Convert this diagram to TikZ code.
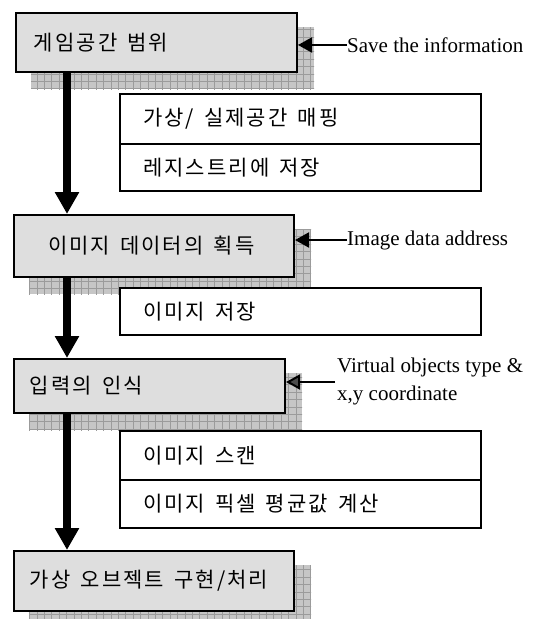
\documentclass[tikz,border=0pt]{standalone}
\usepackage{fontspec}
\setmainfont{Liberation Serif}
\newfontfamily\kr[LetterSpace=10]{Noto Sans CJK KR}
\usetikzlibrary{arrows.meta,calc,backgrounds}
\definecolor{boxgray}{RGB}{222,222,222}
\definecolor{shadebase}{RGB}{198,198,198}
\definecolor{shadeline}{RGB}{155,155,155}
\begin{document}
\begin{tikzpicture}[x=1pt,y=-1pt,
  krlabel/.style={align=left, font=\kr\fontsize{21}{25}\selectfont,
    execute at begin node={\spaceskip=10pt\relax}},
  stage/.style={krlabel, draw=black, line width=2pt, fill=boxgray,
    anchor=north west, inner ysep=0pt},
  cell/.style={krlabel, draw=black, line width=2pt, fill=white, anchor=north west,
    minimum width=361pt, inner xsep=23pt, inner ysep=0pt, text width=315pt},
  note/.style={anchor=west, inner sep=0pt, align=left,
    font=\fontsize{21}{28}\selectfont},
  flow/.style={line width=8pt, -{Triangle[length=22pt,width=23pt]}},
  feed/.style={line width=2pt, -{Triangle[length=14pt,width=15pt]}},
]
\useasboundingbox (0,0) rectangle (539,619);

% process boxes (placed by their upper left corners)
\path (15,12)  node[stage, minimum height=59pt, inner xsep=18pt, text width=245pt] (b1) {게임공간 범위};
\path (13,214) node[stage, minimum height=62pt, inner xsep=34pt, text width=212pt] (b2) {이미지 데이터의 획득};
\path (13,358) node[stage, minimum height=54pt, inner xsep=16pt, text width=239pt] (b3) {입력의 인식};
\path (13,550) node[stage, minimum height=60pt, inner xsep=16pt, text width=248pt] (b4) {가상 오브젝트 구현/처리};

% hatched drop shadows behind the process boxes
\begin{scope}[on background layer]
  \foreach \b in {b1,b2,b3,b4}{
    \begin{scope}
      \clip ($(\b.north west)+(16,15)$) rectangle ($(\b.south east)+(16,16)$);
      \fill[shadebase] ($(\b.north west)+(16,15)$) rectangle ($(\b.south east)+(16,16)$);
      \draw[shadeline, line width=0.8pt, step=7.4pt] ($(\b.north west)+(10,10)$) grid ($(\b.south east)+(24,24)$);
    \end{scope}
  }
\end{scope}

% sub-step tables
\path (119,93)  node[cell, minimum height=50pt] (a1) {가상/ 실제공간 매핑};
\path (119,143) node[cell, minimum height=47pt] (a2) {레지스트리에 저장};
\path (119,287) node[cell, minimum height=47pt] (c1) {이미지 저장};
\path (119,430) node[cell, minimum height=49pt] (d1) {이미지 스캔};
\path (119,479) node[cell, minimum height=48pt] (d2) {이미지 픽셀 평균값 계산};

% main flow
\coordinate (col) at (67,0);
\draw[flow] (b1.south -| col) -- (b2.north -| col);
\draw[flow] (b2.south -| col) -- (b3.north -| col);
\draw[flow] (b3.south -| col) -- (b4.north -| col);

% side inputs
\node[note] (n1) at (347,45) {Save the information};
\node[note] (n2) at (347,240) {Image data address};
\coordinate (v3) at (335,382);
\node[note, anchor=north west] (n3) at (337,358) {Virtual objects type \&\\x,y coordinate};
\draw[feed] (n1.west) -- (n1.west -| b1.east);
\draw[feed] (n2.west) -- (n2.west -| b2.east);
\draw[feed, -{Triangle[length=14pt,width=15pt,fill=black!70]}] (v3) -- (v3 -| b3.east);
\end{tikzpicture}
\end{document}
